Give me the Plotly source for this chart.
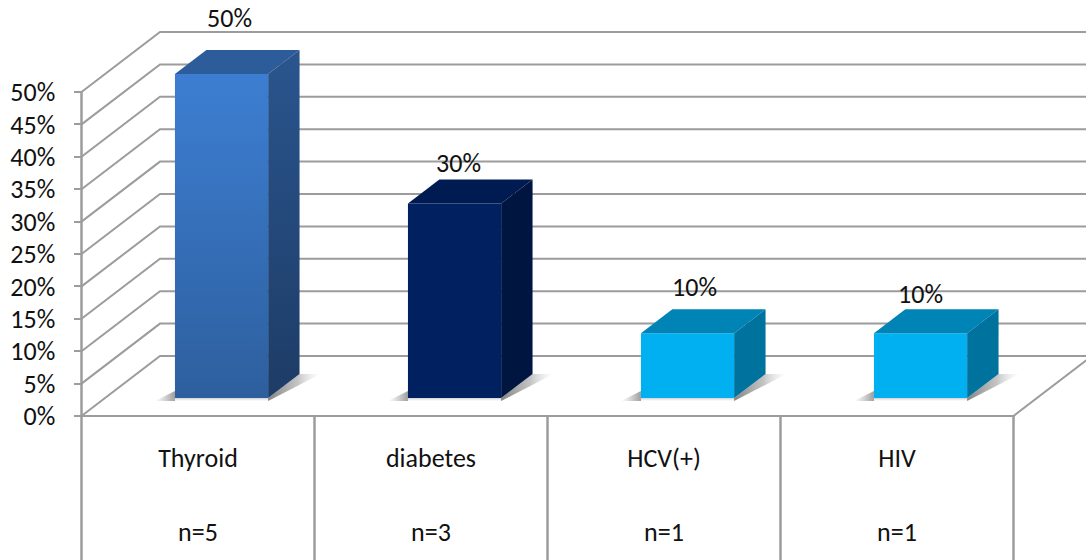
import plotly.graph_objects as go

# Chart data
categories = ["Thyroid", "diabetes", "HCV(+)", "HIV"]
counts = ["n=5", "n=3", "n=1", "n=1"]
percent = [50, 30, 10, 10]
axis_ticks = [0, 5, 10, 15, 20, 25, 30, 35, 40, 45, 50]
axis_tick_text = ["0%", "5%", "10%", "15%", "20%", "25%", "30%", "35%", "40%", "45%", "50%"]

# Canvas and pseudo-3D projection
W, H = 1086, 560
PX_PER_CAT = 233.0
PX_PER_PCT = 6.48
ORIGIN_X, ORIGIN_Y = 81.5, 416.0
DEPTH_X = 78.5 / PX_PER_CAT   # category units from front plane to back wall
DEPTH_Y = 60.0 / PX_PER_PCT   # percent units from front plane to back wall
BAR_NEAR, BAR_FAR = 0.3, 0.7  # bar depth, as a share of the floor
GAP = 1.5                     # gap width relative to bar width
BAR_W = 1 / (1 + GAP)

GRID = "#9c9c9c"
FONT = "Carlito, Lato, sans-serif"
TEXT_SIZE = 26

# Face colours per bar: front, top, side as vertical colour ramps (top colour, bottom colour)
front = [("#3D7ED2", "#2D5F9E"), ("#002060", "#002060"), ("#00B0F0", "#00B0F0"), ("#00B0F0", "#00B0F0")]
top = ["#2C5C99", "#001B51", "#0084B5", "#0084B5"]
side = [("#2A558E", "#1D3C66"), ("#001540", "#001540"), ("#00729E", "#00729E"), ("#00729E", "#00729E")]

# Hand-placed value labels, pixel nudge from the top-centre of each front face
label_dx = [8, 4, 7, 0]
label_dy = [-54, -38, -44, -37]

x_range = [-ORIGIN_X / PX_PER_CAT, (W - ORIGIN_X) / PX_PER_CAT]
y_range = [(ORIGIN_Y - H) / PX_PER_PCT, ORIGIN_Y / PX_PER_PCT]

fig = go.Figure()


def project(x, y, depth):
    return x + depth * DEPTH_X, y + depth * DEPTH_Y


def lines(xs, ys, color=GRID, width=2):
    fig.add_trace(go.Scatter(x=xs, y=ys, mode="lines", line=dict(color=color, width=width),
                             hoverinfo="skip", showlegend=False))


def face(points, color=None, ramp=None, orient="vertical"):
    xs = [p[0] for p in points] + [points[0][0]]
    ys = [p[1] for p in points] + [points[0][1]]
    kw = dict(fillcolor=color) if ramp is None else dict(
        fillgradient=dict(type=orient, colorscale=ramp))
    fig.add_trace(go.Scatter(x=xs, y=ys, mode="lines", fill="toself", line=dict(width=0),
                             hoverinfo="skip", showlegend=False, **kw))


n = len(categories)

# Back wall rules and the matching diagonals on the left wall
gx, gy = [], []
for t in axis_ticks:
    bx, by = project(0, t, 1)
    gx += [0, bx, x_range[1], None]
    gy += [t, by, by, None]
lines(gx, gy)

# Floor edge, right diagonal and the label table below the floor
rx, ry = project(n, 0, 1)
lines([0, n, rx], [0, 0, ry])
for i in range(n + 1):
    lines([i, i], [axis_ticks[-1] if i == 0 else 0, y_range[0]], width=2.5)

# Soft contact shadows on the floor
SHADOW_FADE_L = 20 / PX_PER_CAT
SHADOW_FADE_R = 21 / PX_PER_CAT
for i in range(n):
    x0 = i + (1 - BAR_W) / 2
    x1 = x0 + BAR_W
    nx0, ny = project(x0, 0, BAR_NEAR)
    nx1, _ = project(x1, 0, BAR_NEAR)
    fx1, fy = project(x1, 0, BAR_FAR)
    drop = 3 / PX_PER_PCT
    # left wedge, fading outward
    face([(nx0 - SHADOW_FADE_L, ny - drop), (nx0, ny - drop), (nx0, ny + 7 / PX_PER_PCT)],
         ramp=[[0, "rgba(130,130,130,0)"], [1, "rgba(90,90,90,0.6)"]], orient="horizontal")
    # thin fade beneath the front face
    face([(nx0 - SHADOW_FADE_L / 2, ny - drop), (nx1, ny - drop), (nx1, ny), (nx0, ny)],
         ramp=[[0, "rgba(190,190,190,0)"], [1, "rgba(170,170,170,0.55)"]])
    # right wedge beside the side face
    face([(nx1, ny - drop), (fx1 + SHADOW_FADE_R, fy), (fx1, fy), (nx1, ny)],
         ramp=[[0, "rgba(80,80,80,0.7)"], [0.55, "rgba(120,120,120,0.45)"], [1, "rgba(190,190,190,0)"]],
         orient="horizontal")

# Bars: front, top and side faces projected from each value
for i, v in enumerate(percent):
    x0 = i + (1 - BAR_W) / 2
    x1 = x0 + BAR_W
    a = project(x0, 0, BAR_NEAR)
    b = project(x1, 0, BAR_NEAR)
    c = project(x1, v, BAR_NEAR)
    d = project(x0, v, BAR_NEAR)
    e = project(x1, 0, BAR_FAR)
    f = project(x1, v, BAR_FAR)
    g = project(x0, v, BAR_FAR)
    face([a, b, c, d], ramp=[[0, front[i][1]], [1, front[i][0]]])
    face([d, c, f, g], color=top[i])
    face([b, e, f, c], ramp=[[0, side[i][1]], [1, side[i][0]]])

# Value labels
lx, ly, lt = [], [], []
for i, v in enumerate(percent):
    cx, cy = project(i + 0.5, v, BAR_NEAR)
    lx.append(cx + label_dx[i] / PX_PER_CAT)
    ly.append(cy - label_dy[i] / PX_PER_PCT)
    lt.append(f"{v}%")
fig.add_trace(go.Scatter(x=lx, y=ly, text=lt, mode="text", textposition="middle center",
                         textfont=dict(family=FONT, size=TEXT_SIZE, color="#111111"),
                         hoverinfo="skip", showlegend=False))

# Two-row category table under the floor
centres = [i + 0.5 for i in range(n)]
for labels, row_px in ((categories, 460), (counts, 534)):
    fig.add_trace(go.Scatter(x=centres, y=[(ORIGIN_Y - row_px) / PX_PER_PCT] * n, text=labels,
                             mode="text", textposition="middle center",
                             textfont=dict(family=FONT, size=TEXT_SIZE, color="#111111"),
                             hoverinfo="skip", showlegend=False))

fig.update_layout(
    width=W, height=H, margin=dict(l=0, r=0, t=0, b=0),
    paper_bgcolor="white", plot_bgcolor="white", showlegend=False,
    xaxis=dict(range=x_range, visible=False, domain=[0, 1]),
    yaxis=dict(range=y_range, anchor="free", position=ORIGIN_X / W, showgrid=False, zeroline=False,
               showline=False, tickmode="array", tickvals=axis_ticks, ticktext=axis_tick_text,
               ticks="outside", ticklen=8, tickwidth=2, tickcolor=GRID, ticklabelstandoff=13,
               tickfont=dict(family=FONT, size=TEXT_SIZE, color="#111111")),
)

fig.write_html("out.html")
